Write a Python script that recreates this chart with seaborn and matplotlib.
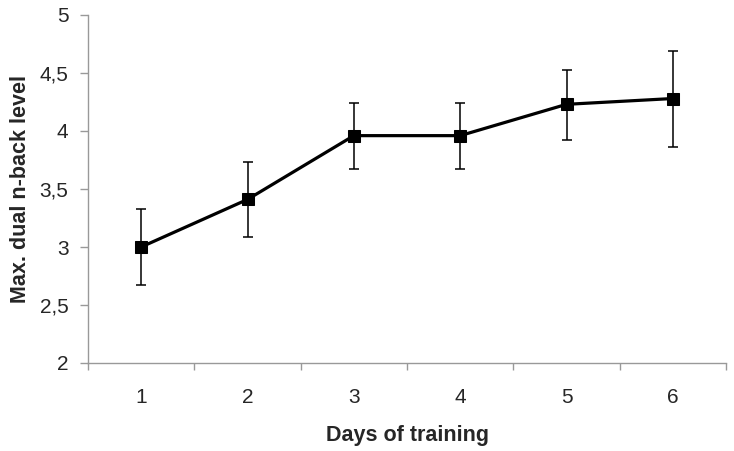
import matplotlib
matplotlib.use("Agg")
import matplotlib.pyplot as plt
import matplotlib.ticker as mticker
import seaborn as sns
import pandas as pd

days = [1, 2, 3, 4, 5, 6]
mean_level = [3.00, 3.41, 3.96, 3.96, 4.23, 4.28]
err_upper = [3.33, 3.735, 4.24, 4.24, 4.53, 4.69]
err_lower = [2.67, 3.09, 3.67, 3.67, 3.92, 3.86]
y_ticks = [2, 2.5, 3, 3.5, 4, 4.5, 5]
y_tick_labels = ["2", "2,5", "3", "3,5", "4", "4,5", "5"]

sns.set_style("white")
plt.rcParams['font.family'] = ['Liberation Sans', 'DejaVu Sans']

df = pd.DataFrame({"day": days, "level": mean_level})

fig = plt.figure(figsize=(7.34, 4.51), dpi=100)
ax = fig.add_axes([88/734, 1-363/451, (726-88)/734, (363-15)/451])

yerr = [[m - lo for m, lo in zip(mean_level, err_lower)],
        [hi - m for m, hi in zip(mean_level, err_upper)]]
ax.errorbar(days, mean_level, yerr=yerr, fmt='none', ecolor='black',
            elinewidth=1.1, capsize=3.5, capthick=1.1, zorder=2)
sns.lineplot(data=df, x="day", y="level", ax=ax, color='black', linewidth=2.3,
             marker='s', markersize=9, markeredgecolor='black', zorder=3)

ax.set_xlim(0.5, 6.5)
ax.set_ylim(2, 5)
ax.set_yticks(y_ticks)
ax.set_yticklabels(y_tick_labels)
ax.set_xticks(days)
ax.set_xticklabels([str(d) for d in days])
ax.xaxis.set_minor_locator(mticker.FixedLocator([0.5 + i for i in range(7)]))
ax.tick_params(axis='x', which='major', length=0, pad=18, labelsize=15)
ax.tick_params(axis='x', which='minor', length=5, color='#999999', width=1, direction='out', bottom=True)
ax.tick_params(axis='y', which='major', length=6, color='#999999', width=1, direction='out', left=True, labelsize=15, pad=8)

for s in ['top', 'right']:
    ax.spines[s].set_visible(False)
for s in ['left', 'bottom']:
    ax.spines[s].set_color('#999999')
    ax.spines[s].set_linewidth(1)

ax.set_xlabel("Days of training", fontsize=15.5, fontweight='bold', labelpad=13)
ax.set_ylabel("Max. dual n-back level", fontsize=15.5, fontweight='bold', labelpad=6)
ax.grid(False)

fig.savefig("out.png", dpi=100)
